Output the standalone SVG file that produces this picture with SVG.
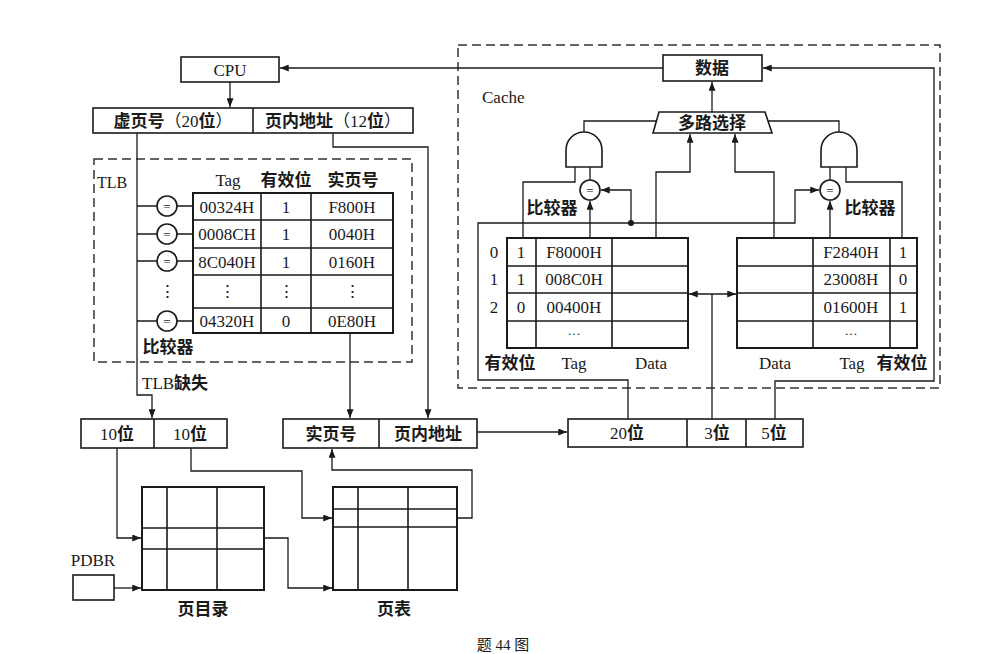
<svg xmlns="http://www.w3.org/2000/svg" width="994" height="654" viewBox="0 0 994 654">
<style>
text{font-family:"Liberation Serif","Noto Sans CJK SC",serif;font-size:17px;fill:#1a1a1a;text-anchor:middle;dominant-baseline:central}
.cj{font-weight:bold}
.st{text-anchor:start}
.eq{font-size:13px}
.box{fill:#fff;stroke:#1a1a1a;stroke-width:1.6}
.tb{fill:#fff;stroke:#1a1a1a;stroke-width:2}
.gl{fill:none;stroke:#1a1a1a;stroke-width:1.6}
.ln{fill:none;stroke:#1a1a1a;stroke-width:1.3}
.ar{marker-end:url(#ah)}
.dash{fill:none;stroke:#333;stroke-width:1.5;stroke-dasharray:9,5}
</style>
<defs>
<marker id="ah" viewBox="0 0 10 8" refX="10" refY="4" markerWidth="10" markerHeight="7" orient="auto-start-reverse" markerUnits="userSpaceOnUse"><path d="M0,0 L10,4 L0,8 z" fill="#1a1a1a"/></marker>
</defs>
<rect width="994" height="654" fill="#fff"/>

<g id="tlb-frame"><rect class="dash" x="94" y="159" width="318" height="203"/><text class="st" x="97" y="182" style="font-size:16px">TLB</text></g>
<g id="cache-frame"><rect class="dash" x="458" y="45" width="482" height="343"/><text class="st" x="482" y="97">Cache</text></g>

<g id="connectors">
<path class="ln ar" d="M663,68 H280"/>
<path class="ln ar" d="M230,82 V107"/>
<path class="ln ar" d="M137,133 V395 H152 V418"/>
<path class="ln" d="M137,206 H157 M177,206 H193 M137,234 H157 M177,234 H193 M137,261 H157 M177,261 H193 M137,321 H157 M177,321 H193"/>
<path class="ln ar" d="M333,133 V147 H428 V418"/>
<path class="ln ar" d="M350,333 V418"/>
<path class="ln ar" d="M477,432 H567"/>
<path class="ln ar" d="M117,448 V538 H141"/>
<path class="ln ar" d="M191,448 V471 H302 V518 H332"/>
<path class="ln ar" d="M249,538 H288 V588 H332"/>
<path class="ln ar" d="M443,518 H472 V470 H332 V449"/>
<path class="ln ar" d="M114,588 H141"/>
<path class="ln ar" d="M628,419 V380 H478 V223 H795 V190 H819"/>
<path class="ln ar" d="M631,223 V190 H601"/>
<circle cx="631" cy="223" r="3" fill="#1a1a1a"/>
<path class="ln ar" d="M590,238 V201"/>
<path class="ln ar" d="M830,238 V201"/>
<path class="ln" d="M590,180 V167 M523,238 V182 H575 V167"/>
<path class="ln" d="M830,180 V167 M902,238 V182 H846 V167"/>
<path class="ln" d="M584,132 V121 H656"/>
<path class="ln" d="M839,132 V121 H768"/>
<path class="ln ar" d="M656,238 V172 H690 V134"/>
<path class="ln ar" d="M774,238 V172 H735 V134"/>
<path class="ln ar" d="M712,112 V82"/>
<path class="ln" d="M712,419 V294"/>
<path class="ln ar" d="M689,294 H736" marker-start="url(#ah)"/>
<path class="ln ar" d="M775,419 V381 H934 V68 H763"/>
</g>

<g id="cpu"><rect class="box" x="181" y="57" width="98" height="25"/><text x="230" y="70">CPU</text></g>

<g id="vaddr">
<rect class="box" x="93" y="108" width="320" height="25"/>
<line class="gl" x1="253" y1="108" x2="253" y2="133"/>
<text x="173" y="121"><tspan class="cj">虚页号</tspan>（20<tspan class="cj">位</tspan>）</text>
<text x="333" y="121"><tspan class="cj">页内地址</tspan>（12<tspan class="cj">位</tspan>）</text>
</g>

<g id="tlb">
<text x="228" y="180">Tag</text><text class="cj" x="286" y="180">有效位</text><text class="cj" x="353" y="180">实页号</text>
<rect class="tb" x="193" y="193" width="200" height="140"/>
<path class="gl" d="M261,193 V333 M311,193 V333 M193,220 H393 M193,248 H393 M193,275 H393 M193,308 H393"/>
<text x="227" y="207">00324H</text><text x="286" y="207">1</text><text x="352" y="207">F800H</text>
<text x="227" y="234">0008CH</text><text x="286" y="234">1</text><text x="352" y="234">0040H</text>
<text x="227" y="262">8C040H</text><text x="286" y="262">1</text><text x="352" y="262">0160H</text>
<text x="227" y="291">⋮</text><text x="286" y="291">⋮</text><text x="352" y="291">⋮</text>
<text x="227" y="321">04320H</text><text x="286" y="321">0</text><text x="352" y="321">0E80H</text>
</g>

<g id="tlb-comparators">
<circle class="gl" cx="167" cy="206" r="10"/><text class="eq" x="167" y="206">=</text>
<circle class="gl" cx="167" cy="234" r="10"/><text class="eq" x="167" y="234">=</text>
<circle class="gl" cx="167" cy="261" r="10"/><text class="eq" x="167" y="261">=</text>
<text x="167" y="291">⋮</text>
<circle class="gl" cx="167" cy="321" r="10"/><text class="eq" x="167" y="321">=</text>
<text class="cj" x="168" y="347">比较器</text>
</g>
<g id="tlb-miss"><text class="st" x="142" y="383">TLB<tspan class="cj">缺失</tspan></text></g>

<g id="lvl"><rect class="box" x="81" y="419" width="146" height="29"/><line class="gl" x1="154" y1="419" x2="154" y2="448"/><text x="117" y="434">10<tspan class="cj">位</tspan></text><text x="190" y="434">10<tspan class="cj">位</tspan></text></g>

<g id="paddr"><rect class="box" x="283" y="419" width="194" height="29"/><line class="gl" x1="379" y1="419" x2="379" y2="448"/><text class="cj" x="331" y="434">实页号</text><text class="cj" x="428" y="434">页内地址</text></g>

<g id="page-dir">
<rect class="tb" x="142" y="487" width="122" height="103"/>
<path class="gl" d="M167,487 V590 M217,487 V590 M142,528 H264 M142,549 H264"/>
<text class="cj" x="203" y="609">页目录</text>
</g>
<g id="page-table">
<rect class="tb" x="333" y="487" width="124" height="103"/>
<path class="gl" d="M358,487 V590 M408,487 V590 M333,509 H457 M333,527 H457"/>
<text class="cj" x="394" y="609">页表</text>
</g>
<g id="pdbr"><text x="93" y="560">PDBR</text><rect class="box" x="73" y="575" width="41" height="25"/></g>

<g id="data"><rect class="box" x="663" y="55" width="99" height="26"/><text class="cj" x="712" y="68">数据</text></g>
<g id="mux"><path class="box" d="M659,112 H765 L772,133 H653 Z"/><text class="cj" x="712" y="123">多路选择</text></g>

<g id="and-left"><path class="box" d="M566,167 V150 A18,18 0 0 1 602,150 V167 Z"/></g>
<g id="and-right"><path class="box" d="M821,167 V150 A18,18 0 0 1 857,150 V167 Z"/></g>
<g id="cmp-left"><circle class="box" cx="590" cy="190" r="10"/><text class="eq" x="590" y="190">=</text><text class="cj" x="552" y="208">比较器</text></g>
<g id="cmp-right"><circle class="box" cx="830" cy="190" r="10"/><text class="eq" x="830" y="190">=</text><text class="cj" x="870" y="208">比较器</text></g>

<g id="cache-left">
<rect class="tb" x="507" y="238" width="181" height="110"/>
<path class="gl" d="M536,238 V348 M612,238 V348 M507,266 H688 M507,293 H688 M507,321 H688"/>
<text x="494" y="252">0</text><text x="494" y="279">1</text><text x="494" y="307">2</text>
<text x="521" y="252">1</text><text x="521" y="279">1</text><text x="521" y="307">0</text>
<text x="574" y="252">F8000H</text><text x="574" y="279">008C0H</text><text x="574" y="307">00400H</text><text x="574" y="333" style="font-size:13px">···</text>
<text class="cj" x="510" y="363">有效位</text><text x="574" y="363">Tag</text><text x="651" y="363">Data</text>
</g>
<g id="cache-right">
<rect class="tb" x="737" y="238" width="180" height="110"/>
<path class="gl" d="M813,238 V348 M890,238 V348 M737,266 H917 M737,293 H917 M737,321 H917"/>
<text x="851" y="252">F2840H</text><text x="851" y="279">23008H</text><text x="851" y="307">01600H</text><text x="851" y="333" style="font-size:13px">···</text>
<text x="903" y="252">1</text><text x="903" y="279">0</text><text x="903" y="307">1</text>
<text x="775" y="363">Data</text><text x="852" y="363">Tag</text><text class="cj" x="902" y="363">有效位</text>
</g>

<g id="cache-addr"><rect class="box" x="568" y="419" width="235" height="28"/><path class="gl" d="M687,419 V447 M746,419 V447"/><text x="627" y="433">20<tspan class="cj">位</tspan></text><text x="717" y="433">3<tspan class="cj">位</tspan></text><text x="774" y="433">5<tspan class="cj">位</tspan></text></g>

<g id="caption"><text x="503" y="645" style="font-size:15px">题 44 图</text></g>
</svg>
